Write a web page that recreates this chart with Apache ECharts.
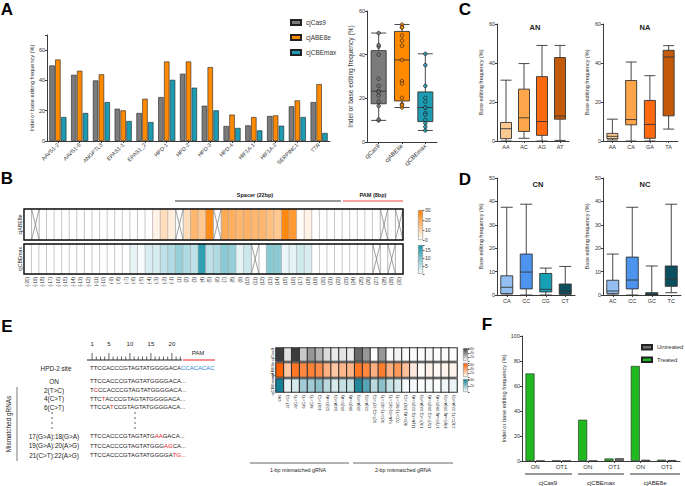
<!DOCTYPE html>
<html>
<head>
<meta charset="utf-8">
<script src="https://cdn.jsdelivr.net/npm/echarts@6.0.0/dist/echarts.min.js"></script>
<style>
  html, body { margin: 0; padding: 0; background: #fff; }
  #chart { width: 685px; height: 486px; }
</style>
</head>
<body>
<div id="chart"></div>
<script>
const FONT = 'Liberation Sans, Arial, sans-serif';

// A: editing per target site
const sites = ['AAVS1-2', 'AAVS1-8', 'ANGPTL3', 'EPAS1-1', 'EPAS1_2', 'HPD-1', 'HPD-2', 'HPD-3', 'HPD-4', 'HIF1A-1', 'HIF1A-2', 'SERPINC1', 'TTR'];
const cas9 = [49.9, 43.7, 40, 21.3, 18.5, 29, 44.4, 23.3, 9.9, 10.3, 16.5, 22.9, 25.7];
const abe8e = [53.8, 46.4, 44, 20.2, 27.9, 52.5, 52.5, 48.8, 17.4, 15.8, 16.9, 26.8, 37.6];
const cbemax = [15.8, 18.5, 25.7, 13.2, 12.5, 40.4, 35.2, 20.2, 8.6, 7, 10.1, 15.8, 5.3];
const editors = ['cjCas9', 'cjABE8e', 'cjCBEmax'];
const editorColors = ['#7b7b7b', '#ff8a00', '#1d9bb2'];

// C / D: box summaries [min, q1, median, q3, max]
const anCats = ['AA', 'AC', 'AG', 'AT'];
const anBox = [[0, 1.2, 6.3, 9.5, 31.2], [1.4, 4.9, 11.9, 26.6, 39.7], [0, 2.9, 10, 33, 49], [0.3, 11.2, 12.8, 42.8, 49]];
const naCats = ['AA', 'CA', 'GA', 'TA'];
const naBox = [[0.5, 1.2, 2.4, 3.9, 11.2], [0, 8.3, 11, 31, 40.5], [0, 1.4, 8.5, 20.8, 33.5], [6.1, 12.9, 43.1, 46.5, 48.9]];
const cnCats = ['CA', 'CC', 'CG', 'CT'];
const cnBox = [[0, 0.6, 3.3, 8.2, 37.5], [0, 2.6, 9.8, 17.5, 38.8], [0, 1.3, 2.4, 9.2, 11.5], [0, 0.3, 1.6, 4.7, 12.2]];
const ncCats = ['AC', 'CC', 'GC', 'TC'];
const ncBox = [[0, 0.6, 1.7, 6.3, 17.5], [0, 2.6, 6.4, 16.2, 37.5], [0, 0, 0.3, 1, 12.4], [1, 3.7, 6.8, 12.4, 38.8]];
const orangeShades = ['#fdc993', '#fda54a', '#ff6a10', '#c25a0a'];
const cnColors = ['#93bff0', '#4d94ee', '#17a0b5', '#0c4f5f'];
const ncColors = ['#93bff0', '#4d94ee', '#0d5565', '#0c4f5f'];

// B: positional heatmap (null = not available)
const positions = ['(-20)', '(-19)', '(-18)', '(-17)', '(-16)', '(-15)', '(-14)', '(-13)', '(-12)', '(-11)',
  '(-10)', '(-9)', '(-8)', '(-7)', '(-6)', '(-5)', '(-4)', '(-3)', '(-2)', '(-1)',
  '(1)', '(2)', '(3)', '(4)', '(5)', '(6)', '(7)', '(8)', '(9)', '(10)',
  '(11)', '(12)', '(13)', '(14)', '(15)', '(16)', '(17)', '(18)', '(19)', '(20)',
  '(21)', '(22)', '(23)', '(24)', '(25)', '(26)', '(27)', '(28)', '(29)', '(30)'];
const posAbe = [0, null, 0, 0, 0, 0, 0, 0, 0, 0,
  0, 0, 0, 0, 0, 0, 0, 3, 8, 4,
  null, 8, 17, 13, 27, null, 20, 19, 17, 18,
  17, 17, 15, 13, 28, 24, 1, 3, 0, 0,
  0, 0, 0, 0, 0, 0, 0, null, 0, null];
const posCbe = [0, 0, 0, 0, 0, 0, 0, 0, 0, 0,
  0, 0, 0, 0, 2, 0.5, 3, 3, 5, 6,
  8, 6, 5, 16, 5, 6, 9, 8, 2, 4,
  null, 0, 9, 9, 1.5, 2, 3.5, 3, 0, 0,
  0, 0, 0, 0, 0, 0, null, 0, null, 0];

// E: mismatched gRNAs
const grnas = ['ON', '2(T>C)', '4(C>T)', '6(C>T)', '8(C>T)', '10(T>C)', '12(G>A)', '14(A>G)', '16(G>A)', '18(G>A)', '20(A>G)', '22(A>G)',
  '1(T>C):2(T>C)', '3(C>T):4(C>T)', '5(A>G):6(C>T)', '7(C>T):8(C>T)', '9(G>A):10(T>C)', '11(A>G):12(G>A)',
  '13(T>C):14(A>G)', '15(T>C):16(G>A)', '17(G>A):18(G>A)', '19(G>A):20(A>G)', '21(C>T):22(A>G)'];
const mmCas9 = [65, 10, 68, 18, 35, 25, 12, 7, 9, 7, 50, 35, 1, 35, 2, 4, 2, 1, 1, 3, 1, 1, 1];
const mmAbe = [70, 25, 60, 52, 55, 50, 35, 25, 32, 32, 60, 53, 35, 57, 35, 45, 28, 10, 2, 6, 3, 5, 5];
const mmCbe = [45, 5, 8, 18, 18, 22, 13, 8, 11, 11, 42, 32, 13, 22, 11, 8, 2, 2, 1, 2, 1, 3, 4];

// F: on / off target
const fCats = ['ON', 'OT1', 'ON', 'OT1', 'ON', 'OT1'];
const treated = [70, 0.3, 33, 2, 76, 1];
const untreated = [0.3, 0.3, 0.3, 2.2, 1, 0.7];

function fiveNum(arr) {
  const s = arr.slice().sort((a, b) => a - b);
  const q = p => {
    const pos = (s.length + 1) * p - 1;
    const lo = Math.floor(pos);
    return s[lo] + (s[Math.min(lo + 1, s.length - 1)] - s[lo]) * (pos - lo);
  };
  return [s[0], q(0.25), q(0.5), q(0.75), s[s.length - 1]];
}

const axisColor = '#3a3a3a';
function valueAxis(grid, max, interval, name, nameSize, nameGap) {
  return {
    type: 'value', gridIndex: grid, min: 0, max: max, interval: interval,
    name: name, nameLocation: 'middle', nameGap: nameGap || 12,
    nameTextStyle: { fontSize: nameSize || 5.5, color: '#333' },
    axisLine: { show: true, lineStyle: { color: axisColor, width: 1 } },
    axisTick: { show: true, length: 2, lineStyle: { color: axisColor } },
    axisLabel: { fontSize: 5.5, color: '#333', margin: 2, formatter: v => (v % interval === 0 ? v : '') },
    splitLine: { show: false }
  };
}
function catAxis(grid, data, rotate, size) {
  return {
    type: 'category', gridIndex: grid, data: data,
    axisLine: { show: true, lineStyle: { color: axisColor, width: 1 } },
    axisTick: { show: true, alignWithLabel: true, length: 2, lineStyle: { color: axisColor } },
    axisLabel: { fontSize: size || 5.5, color: '#333', rotate: rotate || 0, interval: 0, margin: 3 },
    splitLine: { show: false }
  };
}
function heatX(grid, data, showLabel, size) {
  return {
    type: 'category', gridIndex: grid, data: data,
    axisLine: { show: false }, axisTick: { show: false },
    axisLabel: { show: showLabel, rotate: 90, fontSize: size, color: '#333', interval: 0, margin: 3 },
    splitLine: { show: true, interval: 0, lineStyle: { color: '#aaa', width: 0.8 } }
  };
}
function heatY(grid, label, size) {
  return {
    type: 'category', gridIndex: grid, data: [label],
    axisLine: { show: false }, axisTick: { show: false },
    axisLabel: { rotate: 90, fontSize: size, color: '#222', margin: 2 }
  };
}
function barAxisX(grid) {
  return { type: 'category', gridIndex: grid, data: [''], show: false };
}
function barAxisY(grid, max, interval, size) {
  return {
    type: 'value', gridIndex: grid, min: 0, max: max, interval: interval, position: 'right',
    axisLine: { show: false }, axisTick: { show: true, length: 1.5, lineStyle: { color: '#555' } },
    splitLine: { show: false },
    axisLabel: { fontSize: size, color: '#333', margin: 2, formatter: v => (v > 0 && v % interval === 0 ? v : (v === 0 && max === 30 ? '0' : '')) }
  };
}

const frame = { show: true, z: 10, backgroundColor: 'transparent', borderColor: '#111', borderWidth: 1.4 };
const grids = [
  { left: 47, top: 35, width: 283, height: 106 },
  { left: 367, top: 11, width: 70, height: 131 },
  { left: 497, top: 24, width: 72, height: 117 },
  { left: 603, top: 24, width: 75, height: 117 },
  { left: 497, top: 178, width: 78, height: 117 },
  { left: 603, top: 178, width: 78, height: 117 },
  Object.assign({ left: 24, top: 209, width: 379, height: 31 }, frame),
  Object.assign({ left: 24, top: 244, width: 379, height: 30 }, frame),
  { left: 276, top: 348, width: 181, height: 13 },
  { left: 276, top: 363, width: 181, height: 14 },
  { left: 276, top: 379, width: 181, height: 13 },
  { left: 522, top: 336, width: 158, height: 125 },
  { left: 418, top: 210, width: 5, height: 30 },
  { left: 418, top: 245, width: 5, height: 29 },
  { left: 463, top: 348, width: 5, height: 13 },
  { left: 463, top: 363, width: 5, height: 14 },
  { left: 463, top: 379, width: 5, height: 13 }
].map(g => Object.assign({ outerBoundsMode: 'none', containLabel: false }, g));

const xAxes = [
  catAxis(0, sites, 45, 5.5),
  catAxis(1, editors, 45, 6),
  catAxis(2, anCats), catAxis(3, naCats), catAxis(4, cnCats), catAxis(5, ncCats),
  heatX(6, positions, false, 4.5), heatX(7, positions, true, 4.5),
  heatX(8, grnas, false, 4.3), heatX(9, grnas, false, 4.3), heatX(10, grnas, true, 4.3),
  catAxis(11, fCats, 0, 6),
  barAxisX(12), barAxisX(13), barAxisX(14), barAxisX(15), barAxisX(16)
];
const yAxes = [
  valueAxis(0, 70, 20, 'Indel or base editing frequency (%)', 5.6, 12),
  valueAxis(1, 60, 20, 'Indel or base editing frequency (%)', 6.6, 13),
  valueAxis(2, 60, 20, 'Base editing frequency (%)', 5.5, 13),
  valueAxis(3, 60, 20, 'Base editing frequency (%)', 5.5, 13),
  valueAxis(4, 50, 10, 'Base editing frequency (%)', 5.5, 13),
  valueAxis(5, 50, 10, 'Base editing frequency (%)', 5.5, 13),
  heatY(6, 'cjABE8e', 5.2), heatY(7, 'cjCBEmax', 5.2),
  heatY(8, 'cjCas9', 4.3), heatY(9, 'cjABE8e', 4.3), heatY(10, 'cjCBEmax', 4.3),
  valueAxis(11, 100, 20, 'Indel or base editing frequency (%)', 5.7, 13),
  barAxisY(12, 30, 10, 5), barAxisY(13, 18, 5, 5),
  barAxisY(14, 65, 20, 3.6), barAxisY(15, 70, 20, 3.6), barAxisY(16, 45, 20, 3.6)
];

const barSeries = {
  type: 'bar', xAxisIndex: 0, yAxisIndex: 0, barWidth: 5.4, barGap: '8%'
};
function boxSeries(grid, summary, colors, width) {
  return {
    type: 'boxplot', xAxisIndex: grid, yAxisIndex: grid, boxWidth: [width, width],
    data: summary.map((v, i) => ({ value: v, itemStyle: { color: colors[i], borderColor: '#333', borderWidth: 0.9 } }))
  };
}
function heatData(values) {
  const out = [];
  values.forEach((v, i) => { if (v !== null) out.push([i, 0, v]); });
  return out;
}
function naData(values) {
  const out = [];
  values.forEach((v, i) => { if (v === null) out.push([i, 0]); });
  return out;
}
function renderCross(params, api) {
  const c = api.coord([api.value(0), api.value(1)]);
  const s = api.size([1, 1]);
  const x0 = c[0] - s[0] / 2, x1 = c[0] + s[0] / 2, y0 = c[1] - s[1] / 2, y1 = c[1] + s[1] / 2;
  return {
    type: 'group', children: [
      { type: 'rect', shape: { x: x0, y: y0, width: s[0], height: s[1] }, style: { fill: '#fff', stroke: '#aaa', lineWidth: 0.8 } },
      { type: 'line', shape: { x1: x0, y1: y0, x2: x1, y2: y1 }, style: { stroke: '#777', lineWidth: 0.7 } },
      { type: 'line', shape: { x1: x0, y1: y1, x2: x1, y2: y0 }, style: { stroke: '#777', lineWidth: 0.7 } }
    ]
  };
}
function heatSeries(grid, values, border, width) {
  return {
    type: 'heatmap', xAxisIndex: grid, yAxisIndex: grid, data: heatData(values),
    itemStyle: { borderColor: border, borderWidth: width }
  };
}
function crossSeries(grid, values) {
  return { type: 'custom', xAxisIndex: grid, yAxisIndex: grid, renderItem: renderCross, data: naData(values), z: 3 };
}
function colorBar(grid, max, colors) {
  return {
    type: 'bar', xAxisIndex: grid, yAxisIndex: grid, data: [max], barWidth: '100%', silent: true,
    itemStyle: {
      borderColor: '#888', borderWidth: 0.6,
      color: new echarts.graphic.LinearGradient(0, 0, 0, 1, [{ offset: 0, color: colors[1] }, { offset: 1, color: colors[0] }])
    }
  };
}

const abeRange = ['#ffffff', '#ff8000'];
const cbeRange = ['#ffffff', '#1494a8'];
const mmCasRange = ['#ffffff', '#3c3c3c'];
const mmAbeRange = ['#ffffff', '#ff6000'];
const mmCbeRange = ['#ffffff', '#137f95'];

const boxA = [cas9, abe8e, cbemax].map(fiveNum);
const dotsA = [];
[cas9, abe8e, cbemax].forEach((arr, i) => arr.forEach(v => dotsA.push({ value: [i, v], itemStyle: { color: editorColors[i] } })));

const barEdge = { borderColor: '#222', borderWidth: 0.6 };
const series = [
  Object.assign({}, barSeries, { name: 'cjCas9', data: cas9, itemStyle: Object.assign({ color: editorColors[0] }, barEdge) }),
  Object.assign({}, barSeries, { name: 'cjABE8e', data: abe8e, itemStyle: Object.assign({ color: editorColors[1] }, barEdge) }),
  Object.assign({}, barSeries, { name: 'cjCBEmax', data: cbemax, itemStyle: Object.assign({ color: editorColors[2] }, barEdge) }),
  boxSeries(1, boxA, editorColors, 15),
  { type: 'scatter', xAxisIndex: 1, yAxisIndex: 1, data: dotsA, symbolSize: 3.6, z: 5,
    itemStyle: { borderColor: '#1a1a1a', borderWidth: 0.8 } },
  boxSeries(2, anBox, orangeShades, 11),
  boxSeries(3, naBox, orangeShades, 11),
  boxSeries(4, cnBox, cnColors, 12),
  boxSeries(5, ncBox, ncColors, 12),
  heatSeries(6, posAbe, '#aaa', 0.6), crossSeries(6, posAbe),
  heatSeries(7, posCbe, '#aaa', 0.6), crossSeries(7, posCbe),
  heatSeries(8, mmCas9, '#333', 1.1),
  heatSeries(9, mmAbe, '#333', 1.1),
  heatSeries(10, mmCbe, '#333', 1.1),
  { name: 'Treated', type: 'bar', xAxisIndex: 11, yAxisIndex: 11, data: treated, barWidth: 9, barGap: '15%',
    itemStyle: Object.assign({ color: '#22b822' }, barEdge) },
  { name: 'Untreated', type: 'bar', xAxisIndex: 11, yAxisIndex: 11, data: untreated, barWidth: 9,
    itemStyle: Object.assign({ color: '#6e6e6e' }, barEdge) },
  colorBar(12, 30, abeRange), colorBar(13, 18, cbeRange),
  colorBar(14, 65, mmCasRange), colorBar(15, 70, mmAbeRange), colorBar(16, 45, mmCbeRange)
];

const visualMaps = [
  { seriesIndex: 9, min: 0, max: 30, inRange: { color: abeRange } },
  { seriesIndex: 11, min: 0, max: 18, inRange: { color: cbeRange } },
  { seriesIndex: 13, min: 0, max: 65, inRange: { color: mmCasRange } },
  { seriesIndex: 14, min: 0, max: 70, inRange: { color: mmAbeRange } },
  { seriesIndex: 15, min: 0, max: 45, inRange: { color: mmCbeRange } }
].map(v => Object.assign({ type: 'continuous', show: false, dimension: 2 }, v));

// free text and decorations
function txt(x, y, text, o, rotation) {
  return { type: 'text', x: x, y: y, z: 20, rotation: rotation || 0, style: Object.assign({
    text: text, fontSize: 6, fill: '#222', fontFamily: FONT,
    textAlign: 'center', align: 'center', textVerticalAlign: 'middle', verticalAlign: 'middle'
  }, o || {}) };
}
function ln(x1, y1, x2, y2, color, w) {
  return { type: 'line', z: 20, shape: { x1: x1, y1: y1, x2: x2, y2: y2 }, style: { stroke: color || '#444', lineWidth: w || 1 } };
}
const big = { fontSize: 17, fontWeight: 'bold', fill: '#000' };
const left = { textAlign: 'left', align: 'left' };
const red = { fill: '#e8141c', color: '#e8141c', fontSize: 6, fontFamily: FONT };
const blue = { fill: '#2b7fd0', color: '#2b7fd0', fontSize: 6, fontFamily: FONT };
const seqX = 90;
const ntW = 4.2;

const graphics = [
  txt(7, 9, 'A', big), txt(7, 178, 'B', big), txt(465, 9, 'C', big),
  txt(465, 179, 'D', big), txt(7, 326, 'E', big), txt(487, 324, 'F', big),
  txt(535, 27, 'AN', { fontSize: 7.5, fontWeight: 'bold' }), txt(645, 27, 'NA', { fontSize: 7.5, fontWeight: 'bold' }),
  txt(538, 184, 'CN', { fontSize: 7.5, fontWeight: 'bold' }), txt(645, 184, 'NC', { fontSize: 7.5, fontWeight: 'bold' }),
  // B annotations
  ln(175, 201, 341, 201, '#333', 1.2), txt(255, 195, 'Spacer (22bp)', { fontSize: 5.5, fontWeight: 'bold' }),
  ln(343, 201, 403, 201, '#f04545', 1.2), txt(373, 195, 'PAM (8bp)', { fontSize: 5.5, fontWeight: 'bold' }),
  // E left diagram
  ln(87, 360, 182, 360, '#222', 1), ln(183, 360, 215, 360, '#f04545', 1.2),
  txt(198, 353, 'PAM', { fontSize: 6 }),
  txt(56, 368, 'HPD-2 site', { fontSize: 6.4 }),
  txt(seqX, 368, 'TTCCACCCGTAGTATGGGGACA{b|CCACACAC}', Object.assign({ rich: { b: blue } }, left)),
  txt(54, 381, 'ON', { fontSize: 6.4 }),
  txt(54, 390, '2(T>C)', { fontSize: 6.4 }),
  txt(54, 398.5, '4(C>T)', { fontSize: 6.4 }),
  txt(54, 407, '6(C>T)', { fontSize: 6.4 }),
  txt(54, 436, '17(G>A):18(G>A)', { fontSize: 6.4 }),
  txt(54, 445.5, '19(G>A):20(A>G)', { fontSize: 6.4 }),
  txt(54, 455, '21(C>T):22(A>G)', { fontSize: 6.4 }),
  txt(seqX, 381, 'TTCCACCCGTAGTATGGGGACA...', left),
  txt(seqX, 390, 'T{r|C}CCACCCGTAGTATGGGGACA...', Object.assign({ rich: { r: red } }, left)),
  txt(seqX, 398.5, 'TTC{r|T}ACCCGTAGTATGGGGACA...', Object.assign({ rich: { r: red } }, left)),
  txt(seqX, 407, 'TTCCA{r|T}CCGTAGTATGGGGACA...', Object.assign({ rich: { r: red } }, left)),
  txt(seqX, 436, 'TTCCACCCGTAGTATG{r|AA}GACA...', Object.assign({ rich: { r: red } }, left)),
  txt(seqX, 445.5, 'TTCCACCCGTAGTATGGG{r|AG}CA...', Object.assign({ rich: { r: red } }, left)),
  txt(seqX, 455, 'TTCCACCCGTAGTATGGGGA{r|TG...}', Object.assign({ rich: { r: red } }, left)),
  ln(17, 387, 17, 461, '#555', 0.8),
  txt(8, 424, 'Mismatched gRNAs', { fontSize: 6.4 }, Math.PI / 2),
  // E brackets
  ln(250, 463, 349, 463, '#666', 1), txt(298, 469.5, '1-bp mismatched gRNA', { fontSize: 5.3 }),
  ln(353, 463, 453, 463, '#666', 1), txt(403, 469.5, '2-bp mismatched gRNA', { fontSize: 5.3 }),
  // F groups
  ln(525, 474, 572, 474, '#333', 1), txt(548, 483, 'cjCas9', { fontSize: 6 }),
  ln(578, 474, 624, 474, '#333', 1), txt(601, 483, 'cjCBEmax', { fontSize: 6 }),
  ln(630, 474, 680, 474, '#333', 1), txt(655, 483, 'cjABE8e', { fontSize: 6 })
];
// ruler above the site sequence
[1, 5, 10, 15, 20].forEach(k => graphics.push(txt(seqX + (k - 0.5) * ntW, 344, String(k), { fontSize: 6 })));
for (let k = 1; k <= 22; k++) {
  const x = seqX + (k - 0.5) * ntW;
  const tall = k === 1 || k % 5 === 0;
  graphics.push(ln(x, 360, x, tall ? 353 : 356.5, '#222', 0.7));
}
// vertical ellipses
[413, 418, 423, 428].forEach(y => {
  graphics.push({ type: 'circle', z: 20, shape: { cx: 52, cy: y, r: 0.7 }, style: { fill: '#333' } });
  graphics.push({ type: 'circle', z: 20, shape: { cx: 135, cy: y, r: 0.7 }, style: { fill: '#333' } });
});

const chart = echarts.init(document.getElementById('chart'), null, { renderer: 'svg' });
chart.setOption({
  animation: false,
  backgroundColor: '#fff',
  textStyle: { fontFamily: FONT },
  grid: grids,
  xAxis: xAxes,
  yAxis: yAxes,
  visualMap: visualMaps,
  legend: [
    { data: editors, left: 285, top: 14, orient: 'vertical', itemWidth: 10, itemHeight: 5, itemGap: 8,
      icon: 'rect', textStyle: { fontSize: 6.5, color: '#333' }, selectedMode: false },
    { data: ['Untreated', 'Treated'], left: 636, top: 339, orient: 'vertical', itemWidth: 10, itemHeight: 4.5, itemGap: 6,
      icon: 'rect', textStyle: { fontSize: 6, color: '#333' }, selectedMode: false }
  ],
  series: series,
  graphic: graphics
});
</script>
</body>
</html>
